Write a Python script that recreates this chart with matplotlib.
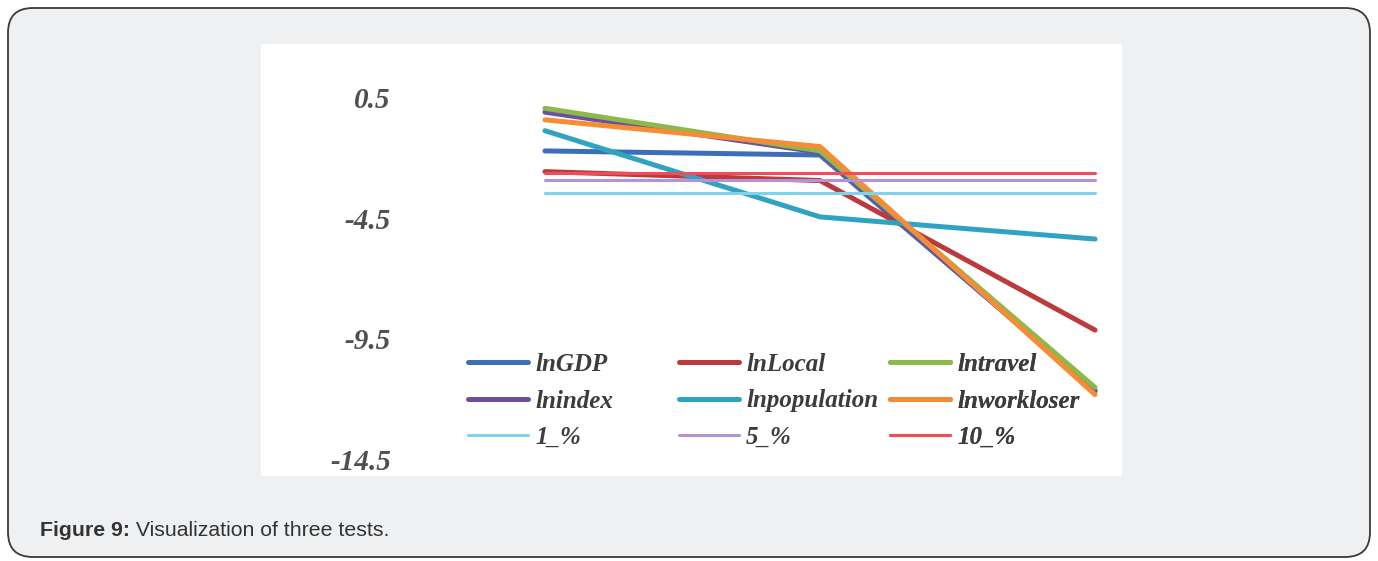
import matplotlib
matplotlib.use("Agg")
import matplotlib.pyplot as plt
from matplotlib.patches import FancyBboxPatch, Rectangle

# ---- data ----
tests = [0, 1, 2]
lnGDP = [-1.70, -1.87, -11.65]
lnLocal = [-2.56, -2.93, -9.14]
lntravel = [0.07, -1.70, -11.52]
lnindex = [-0.09, -1.76, -11.68]
lnpopulation = [-0.86, -4.44, -5.36]
lnworkloser = [-0.41, -1.52, -11.82]
crit_1 = [-3.43, -3.43, -3.43]
crit_5 = [-2.91, -2.91, -2.91]
crit_10 = [-2.61, -2.61, -2.61]
yticks = [0.5, -4.5, -9.5, -14.5]
ytick_labels = ["0.5", "-4.5", "-9.5", "-14.5"]
caption_bold = "Figure 9:"
caption_rest = " Visualization of three tests."

W, H = 1378, 561
fig = plt.figure(figsize=(W / 100, H / 100), dpi=100, facecolor="white")

def fx(px):
    return px / W

def fy(py):
    return 1 - py / H

# outer rounded frame
frame = FancyBboxPatch((fx(8), fy(557)), fx(1370) - fx(8), fy(8) - fy(557),
                       boxstyle="round,pad=0,rounding_size=0.018",
                       transform=fig.transFigure, facecolor="#EFF0F2",
                       edgecolor="#3a3a3a", linewidth=1.3, mutation_aspect=W / H,
                       zorder=-3)
fig.patches.append(frame)
# white chart panel
panel = Rectangle((fx(261), fy(476)), fx(1122) - fx(261), fy(44) - fy(476),
                  transform=fig.transFigure, facecolor="white", edgecolor="none",
                  zorder=-2)
fig.patches.append(panel)

ax = fig.add_axes([fx(400), fy(476), fx(1122) - fx(400), fy(44) - fy(476)])
ax.set_zorder(5)
ax.patch.set_alpha(0)
for s in ax.spines.values():
    s.set_visible(False)
ax.set_xlim(-0.527, 2.098)
ax.set_ylim(-15.20, 2.74)

serif = dict(family="Liberation Serif", weight="bold", style="italic")
main_lw = 3.6
thin_lw = 2.2
series = [
    ("lnGDP", lnGDP, "#3F6EB8", main_lw),
    ("lnLocal", lnLocal, "#BD3A3C", main_lw),
    ("lnindex", lnindex, "#6E4E9E", main_lw),
    ("lntravel", lntravel, "#8CBA4A", main_lw),
    ("lnpopulation", lnpopulation, "#2FA3C0", main_lw),
    ("lnworkloser", lnworkloser, "#F58C36", main_lw),
    ("1_%", crit_1, "#80D2EF", thin_lw),
    ("5_%", crit_5, "#B592D8", thin_lw),
    ("10_%", crit_10, "#EE4E57", thin_lw),
]
handles = {}
for name, vals, col, lw in series:
    h, = ax.plot(tests, vals, color=col, lw=lw, solid_capstyle="round", label=name)
    handles[name] = h

ax.set_xticks([])
ax.set_yticks(yticks)
ax.set_yticklabels(ytick_labels, fontsize=21, color="#505050", **serif)
ax.tick_params(axis="y", length=0, pad=6.5)

# legends: three fixed columns
cols = [["lnGDP", "lnindex", "1_%"],
        ["lnLocal", "lnpopulation", "5_%"],
        ["lntravel", "lnworkloser", "10_%"]]
col_x = [468, 679, 890]
for i, (names, x0) in enumerate(zip(cols, col_x)):
    leg = ax.legend([handles[n] for n in names], names,
                    loc="upper left", bbox_to_anchor=(fx(x0), fy(353)),
                    bbox_transform=fig.transFigure, frameon=False,
                    borderpad=0, borderaxespad=0, handlelength=2.4,
                    handletextpad=0.28, labelspacing=0.54,
                    prop=dict(family="Liberation Serif", weight="bold",
                              style="italic", size=18))
    for t in leg.get_texts():
        t.set_color("#3c3c3c")
    ax.add_artist(leg)

# caption
t1 = fig.text(fx(40), fy(536), caption_bold, fontsize=15.3, weight="bold",
              family="Liberation Sans", color="#333333", va="baseline")
fig.canvas.draw()
bb = t1.get_window_extent()
fig.text(bb.x1 / W, fy(536), caption_rest, fontsize=15.3,
         family="Liberation Sans", color="#333333", va="baseline")

fig.savefig("out.png", dpi=100, facecolor="white")
